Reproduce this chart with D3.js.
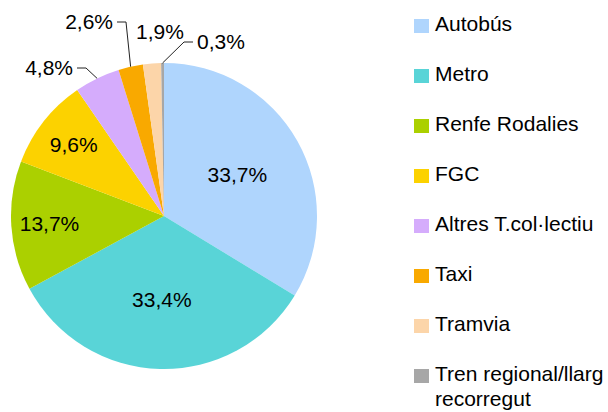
<!DOCTYPE html>
<meta charset="utf-8">
<style>
body { margin: 0; }
text { font-family: "Liberation Sans", Arial, sans-serif; fill: #000; }
</style>
<svg width="608" height="412"></svg>
<script src="https://d3js.org/d3.v7.min.js"></script>
<script>

// data
var categories = ["Autobús", "Metro", "Renfe Rodalies", "FGC", "Altres T.col·lectiu", "Taxi", "Tramvia", "Tren regional/llarg recorregut"];
var values = [33.7, 33.4, 13.7, 9.6, 4.8, 2.6, 1.9, 0.3];
var colours = ["#afd5fd", "#59d4d7", "#abd000", "#fcd200", "#d5acfc", "#f9a900", "#fcd5a9", "#a7a7a7"];

var svg = d3.select("svg"),
    cx = 164, cy = 216, radius = 153,
    fontSize = 21;

var fmt = function(v) { return d3.format(".1f")(v).replace(".", ",") + "%"; };

var pie = d3.pie().sort(null).value(function(d) { return d; });
var arc = d3.arc().innerRadius(0).outerRadius(radius);
var arcs = pie(values);

var g = svg.append("g").attr("transform", "translate(" + cx + "," + cy + ")");

g.selectAll("path")
  .data(arcs)
  .enter().append("path")
    .attr("d", arc)
    .attr("fill", function(d, i) { return colours[i]; });

// labels inside the big slices
var inside = arcs.filter(function(d) { return d.data >= 5; });
g.selectAll("text.in")
  .data(inside)
  .enter().append("text")
    .attr("class", "in")
    .attr("transform", function(d) {
      var k = d.data > 20 ? 0.55 : 0.75;
      var c = d3.arc().innerRadius(radius * k).outerRadius(radius * k).centroid(d);
      return "translate(" + c + ")";
    })
    .attr("text-anchor", "middle")
    .attr("dy", "0.35em")
    .attr("font-size", fontSize)
    .text(function(d) { return fmt(d.data); });

// outside labels, nudged by hand so they do not overlap
var outside = {
  4: { x: -91, y: -148, anchor: "end", leader: true },
  5: { x: -51, y: -194, anchor: "end", leader: true },
  6: { x: -4, y: -184, anchor: "middle", leader: false },
  7: { x: 33, y: -174, anchor: "start", leader: true }
};

arcs.forEach(function(d, i) {
  var o = outside[i];
  if (!o) return;
  g.append("text")
      .attr("x", o.x)
      .attr("y", o.y)
      .attr("dy", "0.35em")
      .attr("text-anchor", o.anchor)
      .attr("font-size", fontSize)
      .text(fmt(d.data));
  if (o.leader) {
    var a = (d.startAngle + d.endAngle) / 2;
    var edge = [radius * Math.sin(a), -radius * Math.cos(a)];
    var side = o.anchor === "end" ? 1 : -1;
    var x0 = o.x + side * 4, x1 = o.x + side * 13;
    g.append("path")
        .attr("d", "M" + x0 + "," + o.y + "H" + x1 + "L" + edge[0] + "," + edge[1])
        .attr("fill", "none")
        .attr("stroke", "#222")
        .attr("stroke-width", 1);
  }
});

// legend
var legend = svg.append("g").attr("transform", "translate(414,0)");
var row = legend.selectAll("g")
  .data(categories)
  .enter().append("g")
    .attr("transform", function(d, i) { return "translate(0," + (31 + i * 50) + ")"; });

row.append("rect")
    .attr("y", -12)
    .attr("width", 15)
    .attr("height", 14)
    .attr("fill", function(d, i) { return colours[i]; });

row.append("text")
    .attr("x", 21)
    .attr("font-size", fontSize)
    .each(function(d) {
      var t = d3.select(this);
      var parts = d === "Tren regional/llarg recorregut" ? ["Tren regional/llarg", "recorregut"] : [d];
      parts.forEach(function(p, j) {
        t.append("tspan").attr("x", 21).attr("dy", j ? 25 : 0).text(p);
      });
    });

</script>
